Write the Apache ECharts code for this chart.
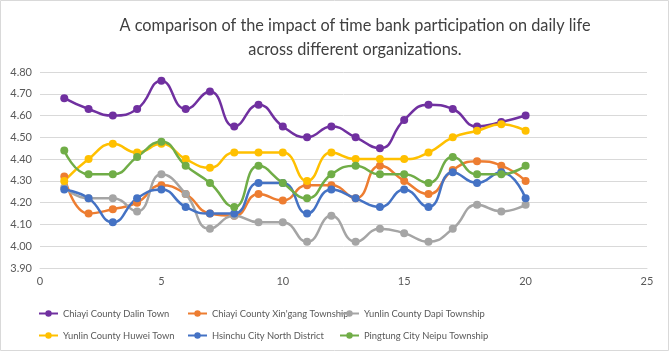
<!DOCTYPE html>
<html>
<head>
<meta charset="utf-8">
<script src="https://cdn.jsdelivr.net/npm/echarts@6/dist/echarts.min.js"></script>
<style>
  html, body { margin: 0; padding: 0; background: #fff; }
  #c_container { width: 669px; height: 351px; }
</style>
</head>
<body>
<div id="c_container"></div>
<script>
var xValues = [1, 2, 3, 4, 5, 6, 7, 8, 9, 10, 11, 12, 13, 14, 15, 16, 17, 18, 19, 20];
var seriesNames = [
  "Chiayi County Dalin Town",
  "Chiayi County Xin'gang Township",
  "Yunlin County Dapi Township",
  "Yunlin County Huwei Town",
  "Hsinchu City North District",
  "Pingtung City Neipu Township"
];
var dalin = [4.68, 4.63, 4.60, 4.63, 4.76, 4.63, 4.71, 4.55, 4.65, 4.55, 4.50, 4.55, 4.50, 4.45, 4.58, 4.65, 4.63, 4.55, 4.57, 4.60];
var xingang = [4.32, 4.15, 4.17, 4.20, 4.28, 4.24, 4.15, 4.14, 4.24, 4.21, 4.28, 4.28, 4.22, 4.37, 4.30, 4.24, 4.35, 4.39, 4.37, 4.30];
var dapi = [4.27, 4.22, 4.22, 4.16, 4.33, 4.24, 4.08, 4.14, 4.11, 4.11, 4.02, 4.14, 4.02, 4.08, 4.06, 4.02, 4.08, 4.19, 4.16, 4.19];
var huwei = [4.30, 4.40, 4.47, 4.43, 4.47, 4.40, 4.36, 4.43, 4.43, 4.43, 4.30, 4.43, 4.40, 4.40, 4.40, 4.43, 4.50, 4.53, 4.56, 4.53];
var northDistrict = [4.26, 4.22, 4.11, 4.22, 4.26, 4.18, 4.15, 4.15, 4.29, 4.29, 4.15, 4.26, 4.22, 4.18, 4.26, 4.18, 4.34, 4.29, 4.34, 4.22];
var neipu = [4.44, 4.33, 4.33, 4.41, 4.48, 4.37, 4.29, 4.18, 4.37, 4.29, 4.22, 4.33, 4.37, 4.33, 4.33, 4.29, 4.41, 4.33, 4.33, 4.37];
var allData = [dalin, xingang, dapi, huwei, northDistrict, neipu];
var colorList = ["#7030A0", "#ED7D31", "#A5A5A5", "#FFC000", "#4472C4", "#70AD47"];
var titleText = "A comparison of the impact of time bank participation on daily life\nacross different organizations.";

var font_family = "Lato, 'Noto Sans', sans-serif";
var myChart = echarts.init(document.getElementById("c_container"));

var series = [];
for (var i = 0; i < seriesNames.length; i++) {
  series.push({
    name: seriesNames[i],
    type: "line",
    smooth: 0.5,
    symbol: "circle",
    symbolSize: 8,
    lineStyle: { width: 2.5, color: colorList[i] },
    itemStyle: { color: colorList[i] },
    data: xValues.map(function (x, k) { return [x, allData[i][k]]; })
  });
}

// one legend per item so the columns line up like the original
var legendPos = [[33, 304], [182, 304], [334, 304], [33, 326], [182, 326], [334, 326]];
var legends = seriesNames.map(function (n, i) {
  return {
    data: [n],
    left: legendPos[i][0],
    top: legendPos[i][1],
    itemWidth: 19,
    itemHeight: 8,
    textStyle: { color: "#595959", fontSize: 9.4, fontFamily: font_family },
    selectedMode: false
  };
});

myChart.setOption({
  animation: false,
  color: colorList,
  title: {
    text: titleText,
    left: 350,
    top: 9,
    textAlign: "center",
    textStyle: { color: "#404040", fontSize: 16.3, fontWeight: "normal", lineHeight: 24, fontFamily: font_family }
  },
  graphic: [{
    type: "rect",
    shape: { x: 0.5, y: 0.5, width: 668, height: 350 },
    style: { fill: "none", stroke: "#D9D9D9", lineWidth: 1 },
    silent: true
  }],
  legend: legends,
  grid: { left: 40, right: 22, top: 72, bottom: 83 },
  xAxis: {
    type: "value",
    min: 0,
    max: 25,
    interval: 5,
    axisLine: { show: true, lineStyle: { color: "#D9D9D9" } },
    axisTick: { show: false },
    splitLine: { show: false },
    axisLabel: { color: "#595959", fontSize: 11, fontFamily: font_family, margin: 8 }
  },
  yAxis: {
    type: "value",
    min: 3.9,
    max: 4.8,
    interval: 0.1,
    axisLine: { show: false },
    axisTick: { show: false },
    splitLine: { lineStyle: { color: "#D9D9D9" } },
    axisLabel: {
      color: "#595959", fontSize: 11, fontFamily: font_family, margin: 8,
      formatter: function (v) { return v.toFixed(2); }
    }
  },
  series: series
});
</script>
</body>
</html>
